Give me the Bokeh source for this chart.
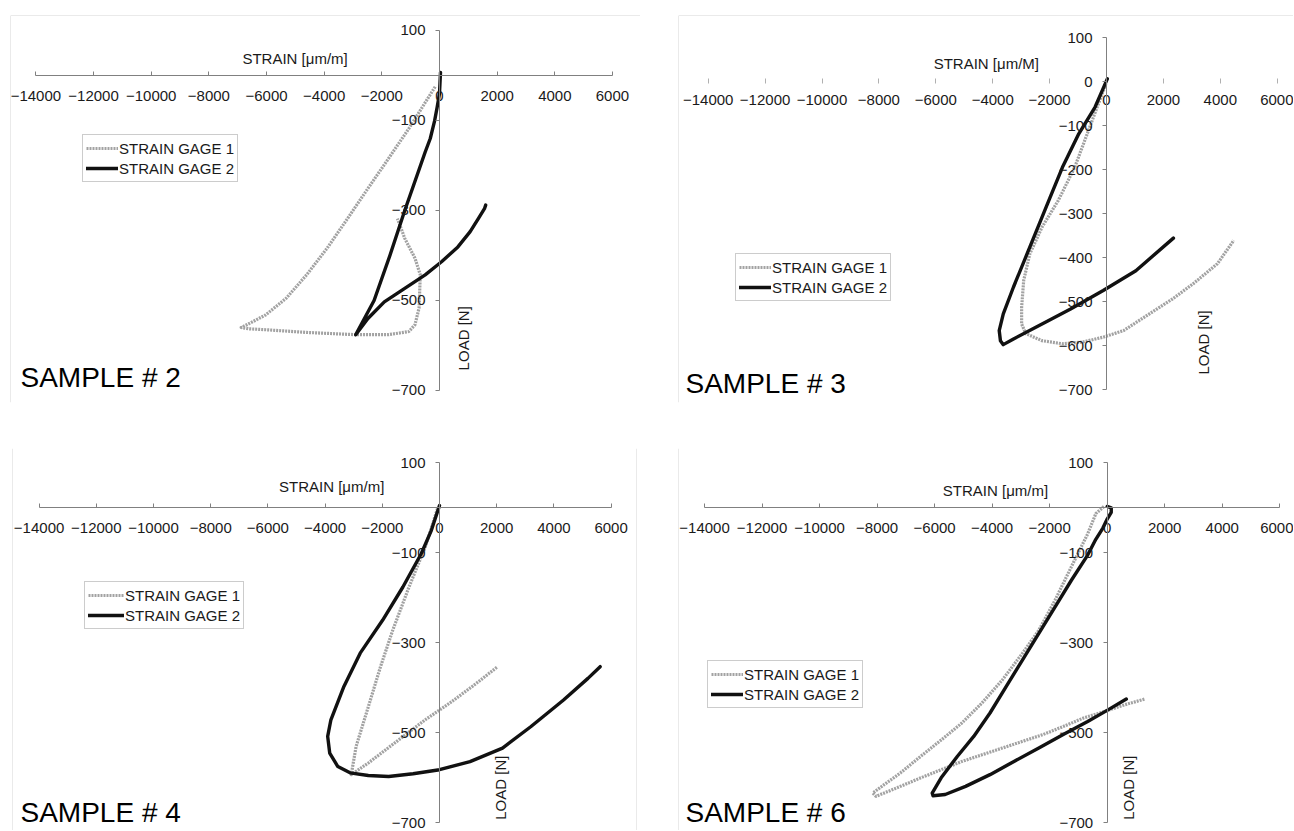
from math import pi
from bokeh.plotting import figure
from bokeh.models import (LinearAxis, FixedTicker, Range1d, Label, Legend,
                          LegendItem, Span)
from bokeh.layouts import column, row
from bokeh.embed import file_html
from bokeh.resources import INLINE

# ---------------- data ----------------
X_TICKS = [-14000, -12000, -10000, -8000, -6000, -4000, -2000, 0, 2000, 4000, 6000]
Y_TICKS_ODD = [100, -100, -300, -500, -700]
Y_TICKS_ALL = [100, 0, -100, -200, -300, -400, -500, -600, -700]

SERIES_NAMES = ["STRAIN GAGE 1", "STRAIN GAGE 2"]
SAMPLE_TITLES = ["SAMPLE # 2", "SAMPLE # 3", "SAMPLE # 4", "SAMPLE # 6"]
X_TITLES = ["STRAIN [μm/m]", "STRAIN [μm/M]", "STRAIN [μm/m]", "STRAIN [μm/m]"]
Y_TITLE = "LOAD [N]"

# Sample 2
s2_g1_x = [-150, -1064, -1773, -2482, -3190, -3900, -4608, -5318, -6027, -6594, -6877,
           -6600, -6027, -4608, -2907, -1773, -1064, -851, -709, -666, -851, -1205, -1418, -1461]
s2_g1_y = [-25, -118, -185, -251, -318, -384, -443, -495, -532, -551, -560,
           -563, -565, -571, -576, -576, -569, -554, -517, -443, -406, -362, -325, -318]
s2_g2_x = [35, 0, -80, -170, -320, -496, -850, -1205, -1720, -2269, -2907,
           -2482, -1914, -1205, -496, 71, 638, 1064, 1347, 1560, 1602]
s2_g2_y = [7, -40, -70, -101, -140, -170, -235, -300, -400, -500, -576,
           -540, -503, -473, -443, -414, -381, -347, -318, -296, -288]

# Sample 3
s3_g1_x = [-20, -545, -1118, -1692, -2266, -2696, -2911, -2983, -2983, -2839, -2266,
           -1549, -832, -115, 602, 1319, 2323, 3040, 3900, 4474]
s3_g1_y = [-5, -96, -195, -270, -331, -392, -452, -513, -551, -573, -589,
           -596, -592, -581, -566, -536, -494, -460, -414, -361]
s3_g2_x = [29, -401, -975, -1549, -1979, -2409, -2839, -3269, -3628, -3771, -3728,
           -3628, -3269, -2266, -1262, -115, 1032, 2352]
s3_g2_y = [6, -58, -119, -195, -263, -331, -399, -467, -528, -566, -589,
           -598, -585, -551, -517, -475, -430, -356]

# Sample 4
s4_g1_x = [-71, -498, -1066, -1635, -2062, -2488, -2915, -3086,
           -2488, -1493, -498, 356, 1209, 2033]
s4_g1_y = [-2, -87, -176, -272, -353, -442, -530, -593,
           -567, -519, -471, -434, -394, -353]
s4_g2_x = [0, -284, -640, -1280, -1991, -2773, -3342, -3797, -3910, -3839, -3555,
           -3128, -2489, -1777, -924, 0, 1067, 2204, 3200, 4337, 5190, 5617]
s4_g2_y = [5, -50, -102, -176, -250, -323, -397, -471, -508, -545, -575,
           -589, -595, -597, -591, -582, -564, -534, -486, -427, -379, -353]

# Sample 6
s6_g1_x = [-113, -396, -679, -1245, -1811, -2377, -2943, -3651, -4358, -5066, -5773,
           -6481, -7188, -7754, -8150, -8037, -7188, -6481, -5773, -5066, -4358,
           -3651, -2943, -2236, -1528, -821, -113, 594, 1302]
s6_g1_y = [3, -13, -58, -131, -205, -272, -323, -383, -434, -479, -516,
           -552, -589, -615, -634, -641, -619, -600, -582, -564, -549,
           -534, -519, -504, -486, -467, -453, -438, -425]
s6_g2_x = [0, 141, 141, 0, -150, -396, -679, -1245, -1811, -2377, -2943, -3509,
           -4075, -4641, -5207, -5773, -6085, -6056, -5632, -4924, -4075, -3226,
           -2377, -1528, -679, 28, 665]
s6_g2_y = [3, 0, -10, -25, -45, -70, -105, -161, -220, -279, -338, -397,
           -456, -508, -552, -600, -634, -640, -637, -619, -593, -563,
           -534, -504, -475, -449, -425]

# ---------------- styling / layout ----------------
FONT = "Liberation Sans"
TXT = "#1a1a1a"
AX = "#808080"
G1_COLOR = "#a2a2a2"
G2_COLOR = "#111111"
BORDER = "#d6d6d6"

PANELS = [
    dict(data=(s2_g1_x, s2_g1_y, s2_g2_x, s2_g2_y), title=SAMPLE_TITLES[0], xt=X_TITLES[0],
         w=640, h=440, mb=(15, 0, 38, 10), xr=(-14880, 6972), yr=(-726.7, 133.3),
         yticks=Y_TICKS_ODD, xline=True, xstand=16,
         xlab=(-5009, 38), ylab=(835, -584), samp=(-14533, -672), leg=(72, 220),
         gw=32, borders=("top", "left")),
    dict(data=(s3_g1_x, s3_g1_y, s3_g2_x, s3_g2_y), title=SAMPLE_TITLES[1], xt=X_TITLES[1],
         w=653, h=440, mb=(15, 0, 38, 38), xr=(-15044, 6573), yr=(-729.5, 150),
         yticks=Y_TICKS_ALL, xline=False, xstand=11,
         xlab=(-4223, 42), ylab=(3420, -593), samp=(-14798, -686), leg=(57, 101),
         gw=32, borders=("top", "left")),
    dict(data=(s4_g1_x, s4_g1_y, s4_g2_x, s4_g2_y), title=SAMPLE_TITLES[2], xt=X_TITLES[2],
         w=640, h=390, mb=(8, 4, 0, 12), xr=(-14930, 6888), yr=(-717.1, 131.8),
         yticks=Y_TICKS_ODD, xline=True, xstand=15,
         xlab=(-3770, 48), ylab=(2122, -622), samp=(-14650, -677), leg=(72, 201),
         gw=36, borders=("left", "right")),
    dict(data=(s6_g1_x, s6_g1_y, s6_g2_x, s6_g2_y), title=SAMPLE_TITLES[3], xt=X_TITLES[3],
         w=653, h=390, mb=(8, 0, 0, 38), xr=(-14906, 6478), yr=(-717.1, 131.8),
         yticks=Y_TICKS_ODD, xline=True, xstand=15,
         xlab=(-3885, 38), ylab=(741, -622), samp=(-14663, -677), leg=(29, 122),
         gw=32, borders=("left",)),
]


def make_panel(c):
    top, right, bottom, left = c["mb"]
    p = figure(width=c["w"], height=c["h"],
               x_range=Range1d(*c["xr"]), y_range=Range1d(*c["yr"]),
               x_axis_type=None, y_axis_type=None,
               toolbar_location=None, output_backend="svg",
               min_border_top=top, min_border_right=right,
               min_border_bottom=bottom, min_border_left=left,
               outline_line_color=None,
               background_fill_color="white", border_fill_color="white")

    xa = LinearAxis(fixed_location=0, ticker=FixedTicker(ticks=X_TICKS),
                    bounds=(X_TICKS[0], X_TICKS[-1]))
    xa.axis_line_color = AX if c["xline"] else None
    xa.major_tick_line_color = AX if c["xline"] else "#b0b0b0"
    xa.major_tick_in = 4 if c["xline"] else 3
    xa.major_tick_out = 0 if c["xline"] else 2
    xa.minor_tick_line_color = None
    xa.major_label_standoff = c["xstand"]
    xa.major_label_text_font = FONT
    xa.major_label_text_font_size = "15px"
    xa.major_label_text_color = TXT
    p.add_layout(xa, "below")

    yt = c["yticks"]
    ya = LinearAxis(fixed_location=0, ticker=FixedTicker(ticks=yt),
                    bounds=(min(yt), max(yt)))
    ya.axis_line_color = AX
    ya.major_tick_line_color = AX
    ya.major_tick_in = 0
    ya.major_tick_out = 4
    ya.minor_tick_line_color = None
    ya.major_label_standoff = 10
    ya.major_label_text_font = FONT
    ya.major_label_text_font_size = "15px"
    ya.major_label_text_color = TXT
    p.add_layout(ya, "left")

    g1x, g1y, g2x, g2y = c["data"]
    r1 = p.line(g1x, g1y, line_color=G1_COLOR, line_width=3.2, line_dash="2 1",
                line_join="round")
    r2 = p.line(g2x, g2y, line_color=G2_COLOR, line_width=3.4, line_join="round",
                line_cap="round")

    leg = Legend(items=[LegendItem(label=SERIES_NAMES[0], renderers=[r1]),
                        LegendItem(label=SERIES_NAMES[1], renderers=[r2])],
                 location=c["leg"], orientation="vertical",
                 border_line_color="#9a9a9a", border_line_width=1,
                 background_fill_color="white", background_fill_alpha=1.0,
                 label_text_font=FONT, label_text_font_size="15px",
                 label_text_color=TXT, glyph_width=c["gw"], glyph_height=20,
                 label_height=20, label_standoff=1, padding=3, spacing=0,
                 margin=0)
    p.add_layout(leg)

    lx, ly = c["xlab"]
    p.add_layout(Label(x=lx, y=ly, text=c["xt"], text_font=FONT,
                       text_font_size="15px", text_color=TXT,
                       text_align="center", text_baseline="middle"))
    vx, vy = c["ylab"]
    p.add_layout(Label(x=vx, y=vy, text=Y_TITLE, text_font=FONT,
                       text_font_size="15px", text_color=TXT, angle=pi / 2,
                       text_align="center", text_baseline="middle"))
    sx, sy = c["samp"]
    p.add_layout(Label(x=sx, y=sy, text=c["title"], text_font=FONT,
                       text_font_size="28px", text_color="#000000",
                       text_align="left", text_baseline="middle"))

    for b in c["borders"]:
        if b == "top":
            p.add_layout(Span(location=c["yr"][1], dimension="width",
                              line_color=BORDER, line_width=1))
        elif b == "left":
            p.add_layout(Span(location=c["xr"][0], dimension="height",
                              line_color=BORDER, line_width=1))
        elif b == "right":
            p.add_layout(Span(location=c["xr"][1], dimension="height",
                              line_color=BORDER, line_width=1))
    return p


figs = [make_panel(c) for c in PANELS]
layout = column(row(figs[0], figs[1]), row(figs[2], figs[3]))

open("out.html", "w").write(file_html(layout, INLINE))
